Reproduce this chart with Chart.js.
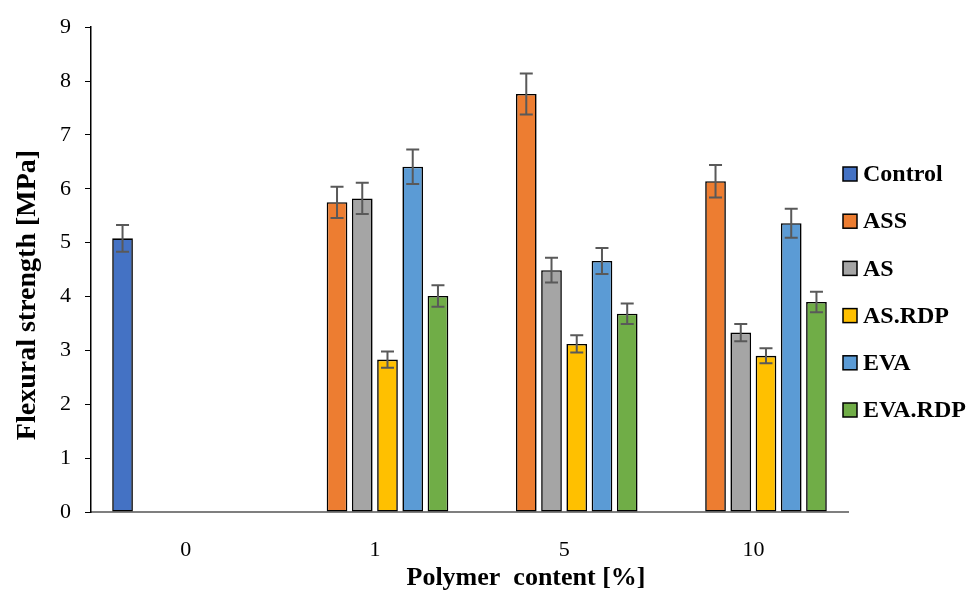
<!DOCTYPE html>
<html>
<head>
<meta charset="utf-8">
<script src="https://cdn.jsdelivr.net/npm/chart.js@4"></script>
<style>
  html, body { margin: 0; padding: 0; background: #fff; }
  #wrap { width: 972px; height: 592px; }
</style>
</head>
<body>
<div id="wrap"><canvas id="c" width="972" height="592"></canvas></div>
<script>
const categories = ["0", "1", "5", "10"];
const seriesNames = ["Control", "ASS", "AS", "AS.RDP", "EVA", "EVA.RDP"];

const control = [5.08, null, null, null];
const ass = [null, 5.75, 7.76, 6.14];
const as = [null, 5.82, 4.49, 3.33];
const asRdp = [null, 2.83, 3.12, 2.9];
const eva = [null, 6.41, 4.66, 5.36];
const evaRdp = [null, 4.01, 3.68, 3.9];

const controlErr = [0.25, null, null, null];
const assErr = [null, 0.29, 0.38, 0.3];
const asErr = [null, 0.29, 0.23, 0.16];
const asRdpErr = [null, 0.15, 0.16, 0.14];
const evaErr = [null, 0.32, 0.24, 0.27];
const evaRdpErr = [null, 0.2, 0.19, 0.19];

const yTicks = [0, 1, 2, 3, 4, 5, 6, 7, 8, 9];
const xTitle = "Polymer  content [%]";
const yTitle = "Flexural strength [MPa]";

const colors = ["#4472C4", "#ED7D31", "#A5A5A5", "#FFC000", "#5B9BD5", "#70AD47"];
const values = [control, ass, as, asRdp, eva, evaRdp];
const errors = [controlErr, assErr, asErr, asRdpErr, evaErr, evaRdpErr];

const serif = "'Liberation Serif', 'DejaVu Serif', serif";

// error bars drawn on top of each bar
const errorBars = {
  id: "errorBars",
  afterDatasetsDraw(chart) {
    const ctx = chart.ctx;
    const y = chart.scales.y;
    ctx.save();
    ctx.strokeStyle = "#595959";
    ctx.lineWidth = 2;
    chart.data.datasets.forEach((ds, i) => {
      const meta = chart.getDatasetMeta(i);
      meta.data.forEach((bar, j) => {
        const v = ds.data[j];
        const e = ds.errors[j];
        if (v == null || e == null) return;
        const top = y.getPixelForValue(v + e);
        const bot = y.getPixelForValue(v - e);
        const cap = 6.5;
        ctx.beginPath();
        ctx.moveTo(bar.x, top);
        ctx.lineTo(bar.x, bot);
        ctx.moveTo(bar.x - cap, top);
        ctx.lineTo(bar.x + cap, top);
        ctx.moveTo(bar.x - cap, bot);
        ctx.lineTo(bar.x + cap, bot);
        ctx.stroke();
      });
    });
    ctx.restore();
  }
};

// legend on the right and the two axis titles (they sit off-centre in the original)
const sideLegend = {
  id: "sideLegend",
  afterDraw(chart) {
    const ctx = chart.ctx;
    ctx.save();
    ctx.font = "bold 24px " + serif;
    ctx.textBaseline = "middle";
    ctx.textAlign = "left";
    chart.data.datasets.forEach((ds, i) => {
      const cy = 174 + i * 47.2;
      ctx.fillStyle = ds.backgroundColor;
      ctx.fillRect(843, cy - 7, 14, 14);
      ctx.strokeStyle = "#000";
      ctx.lineWidth = 1.5;
      ctx.strokeRect(843, cy - 7, 14, 14);
      ctx.fillStyle = "#000";
      ctx.fillText(ds.label, 863, cy + 1);
    });

    ctx.textAlign = "center";
    ctx.font = "bold 26px " + serif;
    ctx.fillText(xTitle, 526, 578);

    ctx.font = "bold 28px " + serif;
    ctx.translate(28, 295);
    ctx.rotate(-Math.PI / 2);
    ctx.fillText(yTitle, 0, 0);
    ctx.restore();
  }
};

new Chart(document.getElementById("c"), {
  type: "bar",
  data: {
    labels: categories,
    datasets: seriesNames.map((name, i) => ({
      label: name,
      data: values[i],
      errors: errors[i],
      backgroundColor: colors[i],
      borderColor: "#000",
      borderWidth: 1.6,
      borderSkipped: false,
      categoryPercentage: 0.8,
      barPercentage: 0.82,
    })),
  },
  options: {
    responsive: false,
    animation: false,
    layout: { padding: { top: 25, right: 124, left: 0, bottom: 0 } },
    plugins: {
      legend: { display: false },
      tooltip: { enabled: false },
    },
    scales: {
      x: {
        grid: { display: false, drawTicks: false },
        border: { display: true, color: "#7f7f7f", width: 2 },
        ticks: {
          color: "#000",
          padding: 25,
          font: { family: serif, size: 22 },
        },
        afterFit(scale) { scale.height = 80; },
      },
      y: {
        min: 0,
        max: 9,
        afterBuildTicks(scale) { scale.ticks = yTicks.map(v => ({ value: v })); },
        grid: { drawOnChartArea: false, drawTicks: true, tickLength: 6, color: "#000" },
        border: { display: true, color: "#000", width: 1.5 },
        ticks: {
          color: "#000",
          padding: 14,
          font: { family: serif, size: 22 },
        },
        afterFit(scale) { scale.width = 91; },
      },
    },
  },
  plugins: [errorBars, sideLegend],
});
</script>
</body>
</html>
